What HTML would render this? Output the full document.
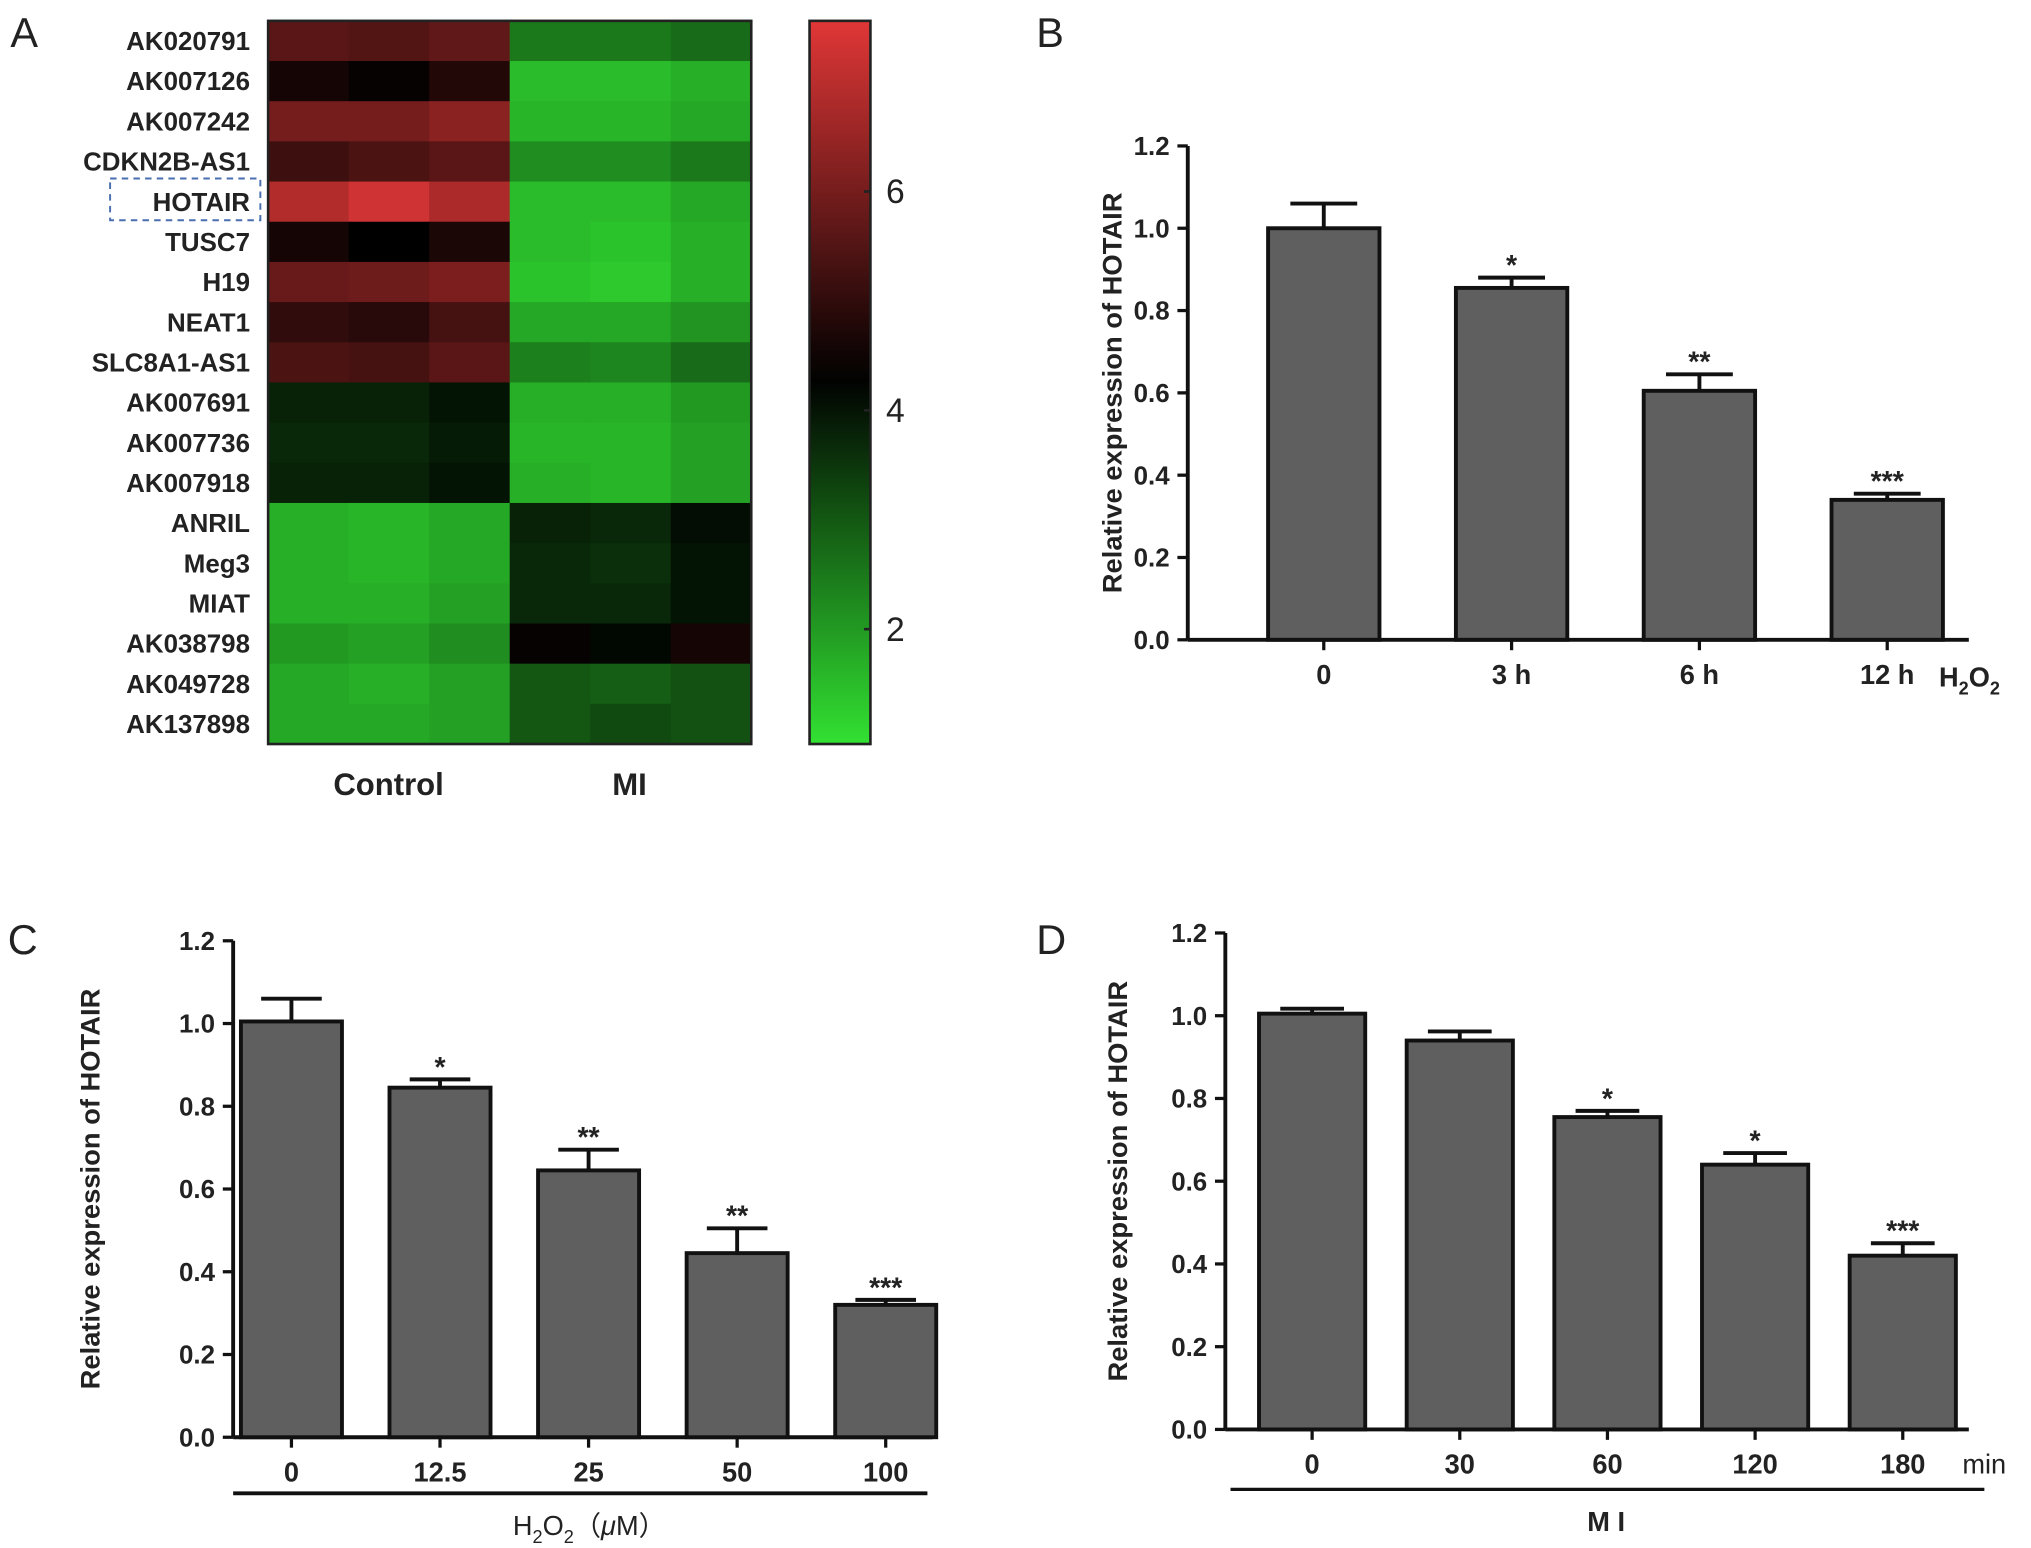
<!DOCTYPE html>
<html><head><meta charset="utf-8"><style>
html,body{margin:0;padding:0;background:#fff;}
svg{display:block;font-family:"Liberation Sans",Arial,sans-serif;}
</style></head><body>
<svg id="fig" width="2031" height="1548" viewBox="0 0 1568 1188" preserveAspectRatio="none">
<rect width="1568" height="1188" fill="#fff"/>
<g id="root"></g>
</svg>
<script>
// ---- Heatmap data ----
const genes=["AK020791","AK007126","AK007242","CDKN2B-AS1","HOTAIR","TUSC7","H19","NEAT1","SLC8A1-AS1","AK007691","AK007736","AK007918","ANRIL","Meg3","MIAT","AK038798","AK049728","AK137898"];
const controlVals=[[5.6,5.5,5.7],[4.6,4.4,4.8],[6.0,6.0,6.3],[5.2,5.4,5.6],[6.9,7.3,6.8],[4.6,4.3,4.7],[5.8,5.9,6.1],[5.0,4.9,5.3],[5.4,5.3,5.6],[3.8,3.8,4.0],[3.7,3.7,3.9],[3.8,3.8,4.0],[1.7,1.6,1.8],[1.7,1.6,1.8],[1.7,1.7,1.9],[2.0,1.9,2.2],[1.8,1.7,1.9],[1.8,1.8,1.9]];
const miVals=[[2.5,2.5,2.7],[1.5,1.5,1.7],[1.6,1.6,1.8],[2.2,2.2,2.5],[1.5,1.5,1.8],[1.5,1.4,1.7],[1.4,1.3,1.7],[1.8,1.8,2.1],[2.4,2.3,2.7],[1.7,1.7,2.0],[1.6,1.6,1.9],[1.7,1.6,1.9],[3.8,3.7,4.1],[3.7,3.6,4.0],[3.7,3.7,4.0],[4.4,4.2,4.6],[3.0,2.9,3.1],[3.0,3.2,3.1]];
const colorTicks=[2,4,6];
// ---- Bar chart data ----
const catsB=["0","3 h","6 h","12 h"], valsB=[1.0,0.855,0.605,0.34], errB=[0.06,0.025,0.04,0.015], sigB=["","*","**","***"];
const catsC=["0","12.5","25","50","100"], valsC=[1.005,0.845,0.645,0.445,0.32], errC=[0.055,0.02,0.05,0.06,0.012], sigC=["","*","**","**","***"];
const catsD=["0","30","60","120","180"], valsD=[1.005,0.94,0.755,0.64,0.42], errD=[0.012,0.022,0.015,0.028,0.03], sigD=["","","*","*","***"];
const yTicks=[0,0.2,0.4,0.6,0.8,1.0,1.2];

const NS="http://www.w3.org/2000/svg", root=document.getElementById('root');
function mk(tag,attrs,parent,txt){const e=document.createElementNS(NS,tag);for(const k in attrs)e.setAttribute(k,attrs[k]);if(txt!==undefined)e.textContent=txt;(parent||root).appendChild(e);return e;}

const vmin=0.95,vmid=4.3,vmax=7.56;
function col(v){let r,g,b;if(v<vmid){const t=(vmid-v)/(vmid-vmin);r=Math.round(t*50);g=Math.round(t*225);b=Math.round(t*50);}else{const t=(v-vmid)/(vmax-vmid);r=Math.round(t*225);g=Math.round(t*55);b=Math.round(t*55);}return `rgb(${r},${g},${b})`;}

const hx0=207,hx1=580,hy0=16,hy1=571;
const rowH=(hy1-hy0)/genes.length, colW=(hx1-hx0)/6;
const hm=mk('g',{});  
genes.forEach((gname,i)=>{
  const vals=controlVals[i].concat(miVals[i]);
  vals.forEach((v,j)=>{
    const c=mk('rect',{x:hx0+j*colW,y:hy0+i*rowH,width:colW+0.5,height:rowH+0.5,fill:col(v)},hm);
     
  });
  const t=mk('text',{x:193,y:hy0+i*rowH+rowH/2+7,'text-anchor':'end','font-size':20,'font-weight':'bold',fill:'#222'},root,gname);
   
});
mk('rect',{x:hx0,y:hy0,width:hx1-hx0,height:hy1-hy0,fill:'none',stroke:'#222','stroke-width':2});
const hb=mk('rect',{x:85,y:137,width:116,height:32,fill:'none',stroke:'#4a6fb0','stroke-width':1.5,'stroke-dasharray':'5,4'});
 
mk('text',{x:300,y:610,'text-anchor':'middle','font-size':24,'font-weight':'bold',fill:'#222'},root,'Control');
mk('text',{x:486,y:610,'text-anchor':'middle','font-size':24,'font-weight':'bold',fill:'#222'},root,'MI');

const cbx=625,cbw=47,cby0=16,cby1=571;
const defs=mk('defs',{}); const lg=mk('linearGradient',{id:'cbg',x1:0,y1:1,x2:0,y2:0},defs);
for(let k=0;k<=20;k++){const v=vmin+(vmax-vmin)*k/20;mk('stop',{offset:k/20,'stop-color':col(v)},lg);}
const cb=mk('rect',{x:cbx,y:cby0,width:cbw,height:cby1-cby0,fill:'url(#cbg)',stroke:'#222','stroke-width':2});
 
function cbY(v){return cby1-(v-vmin)/(vmax-vmin)*(cby1-cby0);}
colorTicks.forEach(v=>{const y=cbY(v);mk('line',{x1:cbx+cbw-5,x2:cbx+cbw,y1:y,y2:y,stroke:'#222','stroke-width':2});
 const t=mk('text',{x:684,y:y+9,'font-size':26,fill:'#222'},root,String(v));});

[['A',8,36],['B',800,36],['C',6,732],['D',800,732]].forEach(p=>{const t=mk('text',{x:p[1],y:p[2],'font-size':32,fill:'#222'},root,p[0]);});

function bars(o){
  const g=mk('g',{});  
  const Y=v=>o.y0-(v/1.2)*(o.y0-o.y12);
  mk('line',{x1:o.ax,x2:o.ax,y1:o.y12,y2:o.y0,stroke:'#111','stroke-width':3},g);
  mk('line',{x1:o.ax,x2:o.xend,y1:o.y0,y2:o.y0,stroke:'#111','stroke-width':3},g);
  yTicks.forEach(v=>{const y=Y(v);mk('line',{x1:o.ax-8,x2:o.ax,y1:y,y2:y,stroke:'#111','stroke-width':2.5},g);
    const t=mk('text',{x:o.ax-14,y:y+7,'text-anchor':'end','font-size':20,'font-weight':'bold',fill:'#222'},g,v.toFixed(1));});
  const yl=mk('text',{transform:`translate(${o.lx},${(o.y0+o.y12)/2}) rotate(-90)`,'text-anchor':'middle','font-size':21,'font-weight':'bold',fill:'#222'},g,'Relative expression of HOTAIR');
   
  o.cats.forEach((c,i)=>{
    const cx=o.x0+i*o.step, top=Y(o.vals[i]), et=Y(o.vals[i]+o.err[i]);
    mk('line',{x1:cx,x2:cx,y1:et,y2:top,stroke:'#111','stroke-width':3},g);
    mk('line',{x1:cx-o.w*0.3,x2:cx+o.w*0.3,y1:et,y2:et,stroke:'#111','stroke-width':3},g);
    const b=mk('rect',{x:cx-o.w/2,y:top,width:o.w,height:o.y0-top,fill:'#5f5f5f',stroke:'#111','stroke-width':3},g);
     
    mk('line',{x1:cx,x2:cx,y1:o.y0,y2:o.y0+8,stroke:'#111','stroke-width':2.5},g);
    const t=mk('text',{x:cx,y:o.y0+34,'text-anchor':'middle','font-size':21,'font-weight':'bold',fill:'#222'},g,c);
    if(o.sig[i]){const s=mk('text',{x:cx,y:et-2,'text-anchor':'middle','font-size':22,'font-weight':'bold',fill:'#222'},g,o.sig[i]);}
  });
}
bars({name:'chart-b',ax:917,y0:491,y12:112,xend:1520,x0:1022,step:145,w:86,cats:catsB,vals:valsB,err:errB,sig:sigB,lx:866});
bars({name:'chart-c',ax:180,y0:1103,y12:722,xend:720,x0:225,step:114.7,w:78,cats:catsC,vals:valsC,err:errC,sig:sigC,lx:77});
bars({name:'chart-d',ax:946,y0:1097,y12:716,xend:1520,x0:1013,step:114,w:82,cats:catsD,vals:valsD,err:errD,sig:sigD,lx:870});

let t=mk('text',{x:1497,y:527,'font-size':21,'font-weight':'bold',fill:'#222'});t.innerHTML='H<tspan font-size="14" dy="6">2</tspan><tspan dy="-6">O</tspan><tspan font-size="14" dy="6">2</tspan>';

mk('line',{x1:180,x2:716,y1:1146,y2:1146,stroke:'#111','stroke-width':3});
t=mk('text',{x:455,y:1178,'text-anchor':'middle','font-size':21,fill:'#222'});t.innerHTML='H<tspan font-size="14" dy="6">2</tspan><tspan dy="-6">O</tspan><tspan font-size="14" dy="6">2</tspan><tspan dy="-6">（</tspan><tspan font-style="italic">μ</tspan>M）';

t=mk('text',{x:1515,y:1131,'font-size':21,fill:'#222'},root,'min');
mk('line',{x1:950,x2:1532,y1:1143,y2:1143,stroke:'#111','stroke-width':2.5});
t=mk('text',{x:1240,y:1175,'text-anchor':'middle','font-size':21,'font-weight':'bold',fill:'#222'},root,'M I');
</script>
</body></html>
